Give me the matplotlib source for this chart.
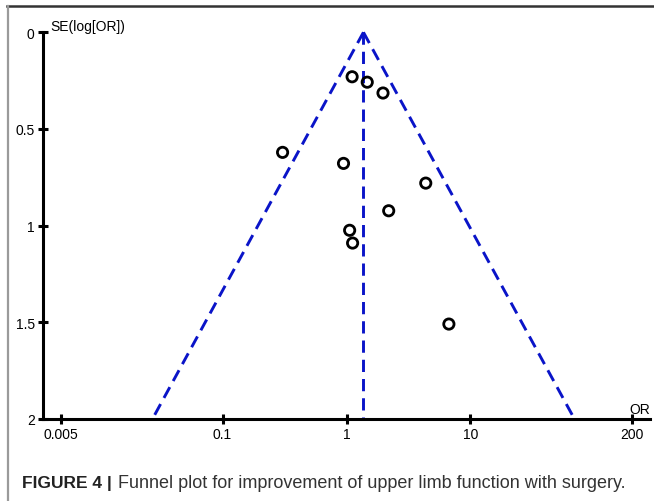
import numpy as np
import matplotlib
matplotlib.use("Agg")
import matplotlib.pyplot as plt
from matplotlib.lines import Line2D

plt.rcParams['font.family'] = ['Liberation Sans', 'DejaVu Sans']

# study estimates
odds_ratio = [1.11, 1.47, 1.97, 0.305, 0.946, 4.36, 2.19, 1.06, 1.12, 6.7]
se_log_or = [0.23, 0.258, 0.314, 0.621, 0.678, 0.780, 0.923, 1.024, 1.090, 1.509]
pooled_or = 1.37

xtick_vals = [0.005, 0.1, 1, 10, 200]
xtick_labels = ['0.005', '0.1', '1', '10', '200']
ytick_vals = [0, 0.5, 1, 1.5, 2]
ytick_labels = ['0', '0.5', '1', '1.5', '2']

W, H = 654, 502
fig = plt.figure(figsize=(W / 100, H / 100), dpi=100)

# axes box in pixels: x 43..650, y 33..420
ax = fig.add_axes([43 / W, 1 - 420 / H, (650 - 43) / W, (420 - 33.3) / H])

blue = '#0a14c8'
se_max = 2.0
dash = (0, (4.2, 2.4))
# funnel: pooled log OR +/- 1.96 * SE
se_line = np.array([0, se_max])
lo = np.exp(np.log(pooled_or) - 1.96 * se_line)
hi = np.exp(np.log(pooled_or) + 1.96 * se_line)
ax.plot(lo, se_line, color=blue, lw=2.1, ls=dash, zorder=2, clip_on=False)
ax.plot(hi, se_line, color=blue, lw=2.1, ls=dash, zorder=2, clip_on=False)
ax.plot([pooled_or, pooled_or], se_line, color=blue, lw=2.1, ls=dash, zorder=2, clip_on=False)

ax.scatter(odds_ratio, se_log_or, s=55, facecolors='none', edgecolors='black',
           linewidths=2.0, zorder=3)

ax.set_xscale('log')
ax.set_xlim(1 / 281, 281)
ax.set_ylim(2, 0)
ax.set_xticks(xtick_vals)
ax.set_xticklabels(xtick_labels)
ax.set_yticks(ytick_vals)
ax.set_yticklabels(ytick_labels)
ax.minorticks_off()

for s in ['top', 'right']:
    ax.spines[s].set_visible(False)
for s in ['left', 'bottom']:
    ax.spines[s].set_linewidth(2.2)
ax.tick_params(direction='inout', length=7, width=2.2, labelsize=10, pad=2.5)

fig.text(50 / W, 1 - 31 / H, 'SE(log[OR])', ha='left', va='baseline', fontsize=10)
fig.text(650 / W, 1 - 414 / H, 'OR', ha='right', va='baseline', fontsize=10)

# figure frame: dark top rule, grey left rule
fig.add_artist(Line2D([7 / W, 1], [1 - 6.5 / H, 1 - 6.5 / H], color='#333333', lw=1.8))
fig.add_artist(Line2D([7.5 / W, 7.5 / W], [0, 1 - 6.5 / H], color='#9a9a9a', lw=1.6))

# caption: bold label followed by regular text
cap_y = 1 - 488 / H
t1 = fig.text(22 / W, cap_y, 'FIGURE 4 |', fontsize=12.5, fontweight='bold',
              color='#222222', va='baseline')
fig.canvas.draw()
bb = t1.get_window_extent()
fig.text((bb.x1 + 6) / W, cap_y, 'Funnel plot for improvement of upper limb function with surgery.',
         fontsize=13, color='#333333', va='baseline')

fig.savefig('out.png', dpi=100)
